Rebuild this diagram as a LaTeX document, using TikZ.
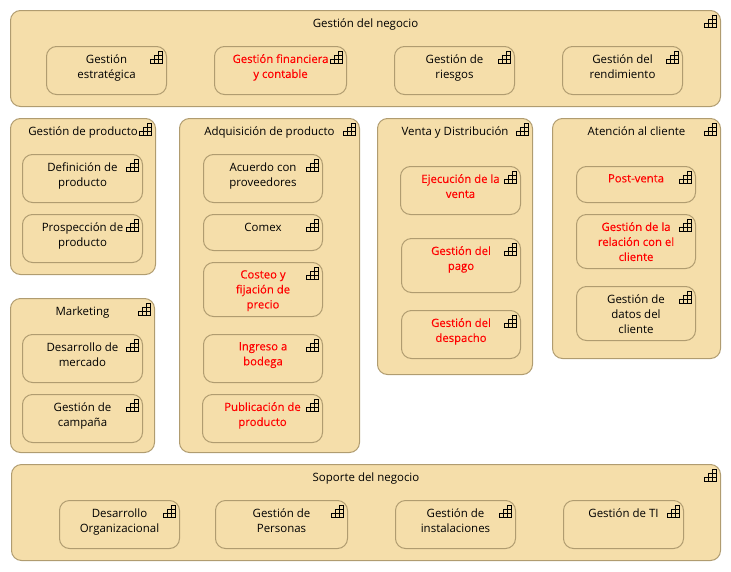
\documentclass[tikz,border=0pt]{standalone}
\usepackage{fontspec}
\setmainfont{Open Sans}
\definecolor{boxfill}{HTML}{F5DEAA}
\definecolor{boxline}{HTML}{B09C70}
\tikzset{
  capbox/.style={draw=boxline,fill=boxfill,line width=0.75pt,rounded corners=7.5pt,inner sep=0pt,outer sep=0pt,anchor=north west},
  captext/.style={anchor=north,inner sep=0pt,align=center,text=black,font=\fontsize{8.6}{11.25}\selectfont},
  redtext/.style={captext,text=red,yshift=0.6pt,font=\fontsize{8.5}{11.25}\selectfont\addfontfeature{FakeBold=0.2}},
  capicon/.style={line width=0.75pt,draw=black,line cap=rect}
}
% name, x1, y1, x2, y2, text style, text
\newcommand{\capb}[7]{%
  \pgfmathsetmacro{\wid}{(#4-#2)*0.75}%
  \pgfmathsetmacro{\hei}{(#5-#3)*0.75}%
  \node[capbox,minimum width=\wid pt,minimum height=\hei pt] (#1) at (#2,#3) {};
  \node[#6] (#1t) at ([yshift=-6.2pt]#1.north) {#7};
  \coordinate (#1c) at ([xshift=-3pt,yshift=-3.75pt]#1.north east);
  \draw[capicon] ([shift={(-9pt,-9pt)}]#1c) -- ++(9pt,0)
    ([shift={(-9pt,-6pt)}]#1c) -- ++(9pt,0)
    ([shift={(-6pt,-3pt)}]#1c) -- ++(6pt,0)
    ([shift={(-3pt,0pt)}]#1c) -- ++(3pt,0)
    ([shift={(0pt,0pt)}]#1c) -- ++(0,-9pt)
    ([shift={(-3pt,0pt)}]#1c) -- ++(0,-9pt)
    ([shift={(-6pt,-3pt)}]#1c) -- ++(0,-6pt)
    ([shift={(-9pt,-6pt)}]#1c) -- ++(0,-3pt);
}
\begin{document}
\begin{tikzpicture}[x=0.75pt,y=-0.75pt]
\useasboundingbox (-0.5,-0.5) rectangle (730.5,570.5);
\capb{neg}{10}{10}{720}{106}{captext}{Gestión del negocio}
\capb{est}{46}{46}{166}{94}{captext}{Gestión\\estratégica}
\capb{fin}{214}{46}{346}{94}{redtext}{Gestión financiera\\y contable}
\capb{rie}{394}{46}{514}{94}{captext}{Gestión de\\riesgos}
\capb{ren}{562}{46}{682}{94}{captext}{Gestión del\\rendimiento}
\capb{pro}{10}{118}{155}{274}{captext}{Gestión de producto}
\capb{def}{22}{154}{142}{202}{captext}{Definición de\\producto}
\capb{prs}{22}{214}{142}{262}{captext}{Prospección de\\producto}
\capb{mkt}{10}{298}{154}{452}{captext}{Marketing}
\capb{des}{22}{334}{142}{382}{captext}{Desarrollo de\\mercado}
\capb{cam}{22}{394}{142}{442}{captext}{Gestión de\\campaña}
\capb{adq}{179}{118}{359}{452}{captext}{Adquisición de producto}
\capb{acu}{203}{154}{322}{202}{captext}{Acuerdo con\\proveedores}
\capb{com}{203}{214}{322}{250}{captext}{Comex}
\capb{cos}{203}{262}{322}{316}{redtext}{Costeo y\\fijación de\\precio}
\capb{ing}{203}{334}{322}{382}{redtext}{Ingreso a\\bodega}
\capb{pub}{202}{394}{322}{442}{redtext}{Publicación de\\producto}
\capb{ven}{377}{118}{532}{374}{captext}{Venta y Distribución}
\capb{eje}{400}{166}{520}{214}{redtext}{Ejecución de la\\venta}
\capb{pag}{401}{238}{520}{292}{redtext}{Gestión del\\pago}
\capb{dsp}{401}{310}{520}{358}{redtext}{Gestión del\\despacho}
\capb{ate}{552}{118}{720}{358}{captext}{Atención al cliente}
\capb{pos}{576}{166}{695}{202}{redtext}{Post-venta}
\capb{rel}{576}{214}{695}{268}{redtext}{Gestión de la\\relación con el\\cliente}
\capb{dat}{576}{286}{695}{340}{captext}{Gestión de\\datos del\\cliente}
\capb{sop}{11}{464}{720}{560}{captext}{Soporte del negocio}
\capb{org}{59}{500}{179}{548}{captext}{Desarrollo\\Organizacional}
\capb{per}{215}{500}{347}{548}{captext}{Gestión de\\Personas}
\capb{ins}{395}{500}{515}{548}{captext}{Gestión de\\instalaciones}
\capb{ti}{563}{500}{683}{548}{captext}{Gestión de TI}
\end{tikzpicture}
\end{document}
